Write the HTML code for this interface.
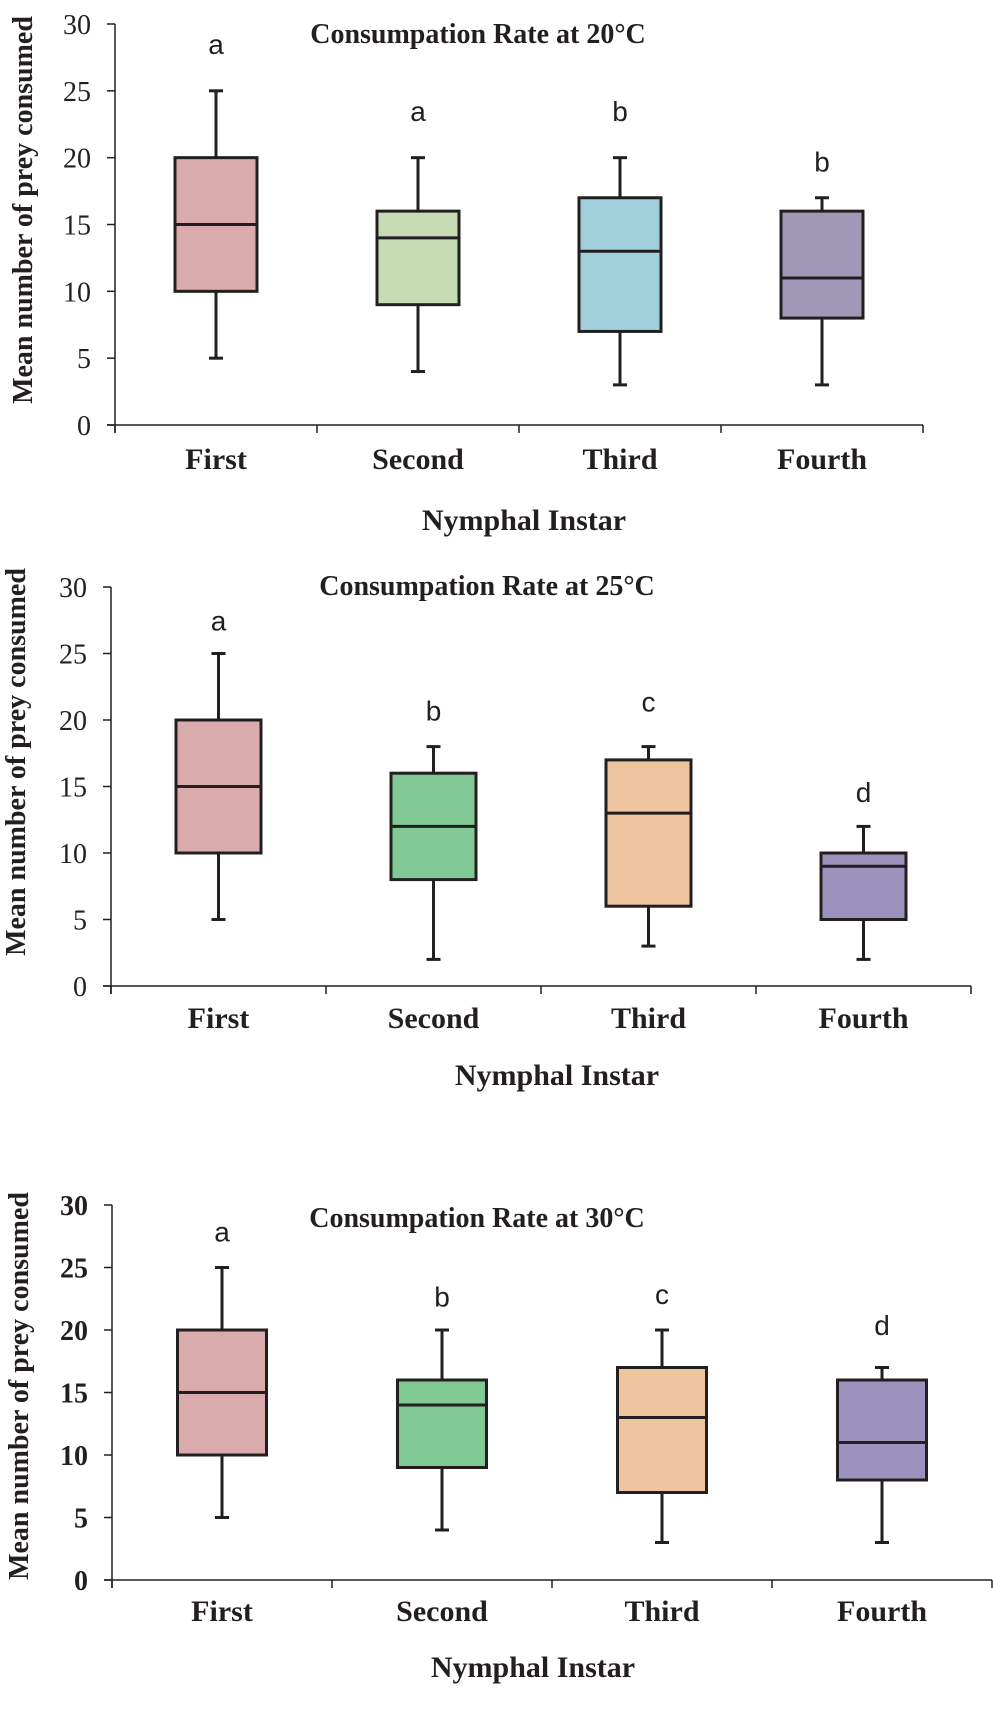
<!DOCTYPE html>
<html><head><meta charset="utf-8">
<style>
html,body{margin:0;padding:0;background:#fff;width:993px;height:1722px;overflow:hidden}
svg{display:block}
.tick{font-family:"Liberation Serif",serif;font-size:28px;fill:#231f20}
.cat{font-family:"Liberation Serif",serif;font-weight:bold;font-size:30px;fill:#231f20}
.ttl{font-family:"Liberation Serif",serif;font-weight:bold;font-size:28px;fill:#231f20}
.xt{font-family:"Liberation Serif",serif;font-weight:bold;font-size:30px;fill:#231f20}
.ylab{font-family:"Liberation Serif",serif;font-weight:bold;font-size:28px;fill:#231f20}
.let{font-family:"Liberation Sans",sans-serif;font-size:28px;fill:#231f20}
</style></head>
<body>
<svg id="fig" width="993" height="1722" viewBox="0 0 993 1722"></svg>
<script>
const categories = ["First","Second","Third","Fourth"];
const yTicks = [0,5,10,15,20,25,30];
const titles = ["Consumpation Rate at 20°C","Consumpation Rate at 25°C","Consumpation Rate at 30°C"];
// [min, q1, median, q3, max] per instar
const mins20 = [5,4,3,3], q1s20 = [10,9,7,8], meds20 = [15,14,13,11], q3s20 = [20,16,17,16], maxs20 = [25,20,20,17];
const mins25 = [5,2,3,2], q1s25 = [10,8,6,5], meds25 = [15,12,13,9], q3s25 = [20,16,17,10], maxs25 = [25,18,18,12];
const mins30 = [5,4,3,3], q1s30 = [10,9,7,8], meds30 = [15,14,13,11], q3s30 = [20,16,17,16], maxs30 = [25,20,20,17];
const letters20 = ["a","a","b","b"];
const letters25 = ["a","b","c","d"];
const letters30 = ["a","b","c","d"];
const letterY20 = [28.5,23.5,23.5,19.7];
const letterY25 = [27.5,20.7,21.4,14.6];
const letterY30 = [27.9,22.7,22.9,20.4];

const NS="http://www.w3.org/2000/svg";
const svg=document.getElementById('fig');
function mk(t,a,p){const e=document.createElementNS(NS,t);for(const k in a)e.setAttribute(k,a[k]);(p||svg).appendChild(e);return e;}

const layouts=[
 {x0:115,y0:425,yTop:24,step:202,bw:82,titleX:478,titleY:43,catY:469,xtX:524,xtY:530,ylX:22,ylY:210,boldTicks:false,
  colors:["#d9abac","#c6dab4","#a1cfdb","#a197b7"],mins:mins20,q1:q1s20,med:meds20,q3:q3s20,max:maxs20,lets:letters20,letY:letterY20},
 {x0:111,y0:986,yTop:587,step:215,bw:85,titleX:487,titleY:595,catY:1028,xtX:557,xtY:1085,ylX:15,ylY:762,boldTicks:false,
  colors:["#d9abac","#80c994","#eec59f","#9b93bd"],mins:mins25,q1:q1s25,med:meds25,q3:q3s25,max:maxs25,lets:letters25,letY:letterY25},
 {x0:112,y0:1580,yTop:1205,step:220,bw:89,titleX:477,titleY:1227,catY:1621,xtX:533,xtY:1677,ylX:18,ylY:1386,boldTicks:true,
  colors:["#d9abac","#80c994","#eec59f","#9b93bd"],mins:mins30,q1:q1s30,med:meds30,q3:q3s30,max:maxs30,lets:letters30,letY:letterY30}
];

layouts.forEach((L,ci)=>{
  const g=mk('g',{});
  
  
  const yS=v=>L.y0-(v/30)*(L.y0-L.yTop);
  const xS=i=>L.x0+L.step*(i+0.5);
  const xEnd=L.x0+L.step*categories.length;
  const ya=mk('line',{x1:L.x0,y1:L.yTop,x2:L.x0,y2:L.y0+8,stroke:'#231f20','stroke-width':1.5},g);
  
  
  const xa=mk('line',{x1:L.x0-8,y1:L.y0,x2:xEnd,y2:L.y0,stroke:'#231f20','stroke-width':1.5},g);
  
  
  yTicks.forEach(v=>{
    mk('line',{x1:L.x0-8,y1:yS(v),x2:L.x0,y2:yS(v),stroke:'#231f20','stroke-width':1.5},g);
    const t=mk('text',{x:L.x0-24,y:yS(v)+10,'text-anchor':'end',class:'tick','font-weight':L.boldTicks?'bold':'normal'},g);
    t.textContent=v;
    
    
  });
  for(let i=0;i<=categories.length;i++){
    mk('line',{x1:L.x0+L.step*i,y1:L.y0,x2:L.x0+L.step*i,y2:L.y0+8,stroke:'#231f20','stroke-width':1.5},g);
  }
  categories.forEach((c,i)=>{
    const cx=xS(i), hw=L.bw/2;
    const w=mk('line',{x1:cx,y1:yS(L.max[i]),x2:cx,y2:yS(L.mins[i]),stroke:'#231f20','stroke-width':3},g);
    
    
    mk('line',{x1:cx-7,y1:yS(L.max[i]),x2:cx+7,y2:yS(L.max[i]),stroke:'#231f20','stroke-width':3},g);
    mk('line',{x1:cx-7,y1:yS(L.mins[i]),x2:cx+7,y2:yS(L.mins[i]),stroke:'#231f20','stroke-width':3},g);
    const b=mk('rect',{x:cx-hw,y:yS(L.q3[i]),width:L.bw,height:yS(L.q1[i])-yS(L.q3[i]),fill:L.colors[i],stroke:'#231f20','stroke-width':3},g);
    
    
    const m=mk('line',{x1:cx-hw,y1:yS(L.med[i]),x2:cx+hw,y2:yS(L.med[i]),stroke:'#231f20','stroke-width':3},g);
    
    
    const lt=mk('text',{x:cx,y:yS(L.letY[i])+10,'text-anchor':'middle',class:'let'},g);
    lt.textContent=L.lets[i];
    
    
    const cl=mk('text',{x:cx,y:L.catY,'text-anchor':'middle',class:'cat'},g);
    cl.textContent=c;
    
    
  });
  const tt=mk('text',{x:L.titleX,y:L.titleY,'text-anchor':'middle',class:'ttl'},g);
  tt.textContent=titles[ci];
  
  
  const xt=mk('text',{x:L.xtX,y:L.xtY,'text-anchor':'middle',class:'xt'},g);
  xt.textContent='Nymphal Instar';
  
  
  const yl=mk('text',{x:0,y:0,'text-anchor':'middle',class:'ylab',transform:`translate(${L.ylX+10},${L.ylY}) rotate(-90)`},g);
  yl.textContent='Mean number of prey consumed';
  
  
});
</script>
</body></html>
